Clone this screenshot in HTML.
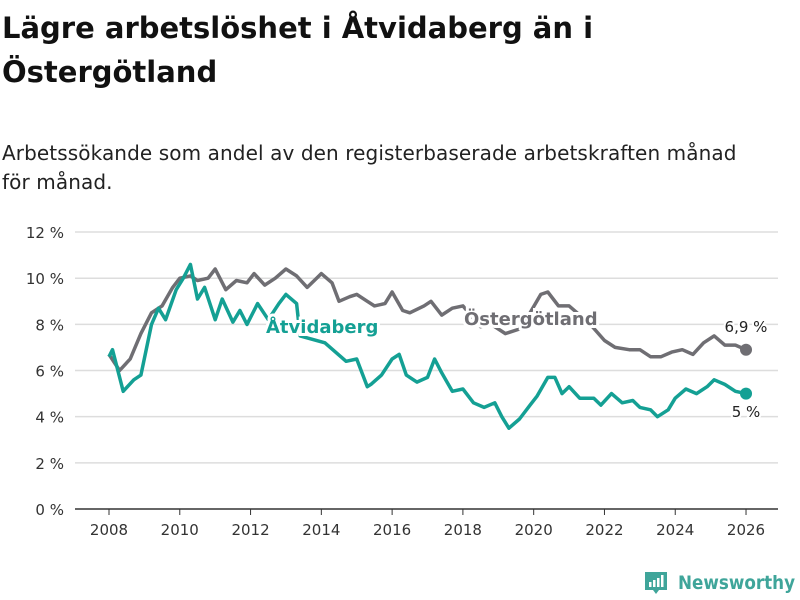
<!DOCTYPE html>
<html><head><meta charset="utf-8">
<style>
body{margin:0;width:800px;height:600px;background:#fff;font-family:"DejaVu Sans","Liberation Sans",sans-serif;color:#111;overflow:hidden;position:relative}
h1{position:absolute;left:2px;top:6px;margin:0;font-size:29px;line-height:44px;font-weight:bold;width:760px}
.sub{position:absolute;left:2px;top:139px;font-size:20px;line-height:29px;width:798px;color:#222;letter-spacing:0.1px}
svg{position:absolute;left:0;top:0}
</style></head><body>
<h1>Lägre arbetslöshet i Åtvidaberg än i<br>Östergötland</h1>
<div class="sub">Arbetssökande som andel av den registerbaserade arbetskraften månad<br>för månad.</div>
<svg id="c" width="800" height="600"></svg>
<script>
const yTicks=[0,2,4,6,8,10,12];
const xTicks=[2008,2010,2012,2014,2016,2018,2020,2022,2024,2026];
const ostYears=[2008.0,2008.3,2008.6,2008.9,2009.2,2009.5,2009.8,2010.0,2010.3,2010.5,2010.8,2011.0,2011.3,2011.6,2011.9,2012.1,2012.4,2012.7,2013.0,2013.3,2013.6,2013.8,2014.0,2014.3,2014.5,2014.8,2015.0,2015.3,2015.5,2015.8,2016.0,2016.3,2016.5,2016.9,2017.1,2017.4,2017.7,2018.0,2018.5,2018.8,2019.2,2019.6,2019.9,2020.2,2020.4,2020.7,2021.0,2021.3,2021.6,2022.0,2022.3,2022.7,2023.0,2023.3,2023.6,2023.9,2024.2,2024.5,2024.8,2025.1,2025.4,2025.7,2026.0];
const ostValues=[6.7,6.0,6.5,7.6,8.5,8.8,9.6,10.0,10.1,9.9,10.0,10.4,9.5,9.9,9.8,10.2,9.7,10.0,10.4,10.1,9.6,9.9,10.2,9.8,9.0,9.2,9.3,9.0,8.8,8.9,9.4,8.6,8.5,8.8,9.0,8.4,8.7,8.8,7.9,8.0,7.6,7.8,8.5,9.3,9.4,8.8,8.8,8.4,8.0,7.3,7.0,6.9,6.9,6.6,6.6,6.8,6.9,6.7,7.2,7.5,7.1,7.1,6.9];
const atvYears=[2008.0,2008.1,2008.4,2008.7,2008.9,2009.2,2009.4,2009.6,2009.9,2010.1,2010.3,2010.5,2010.7,2011.0,2011.2,2011.5,2011.7,2011.9,2012.2,2012.5,2012.8,2013.0,2013.3,2013.4,2014.1,2014.4,2014.7,2015.0,2015.3,2015.4,2015.7,2016.0,2016.2,2016.4,2016.7,2017.0,2017.2,2017.4,2017.7,2018.0,2018.3,2018.6,2018.9,2019.1,2019.3,2019.6,2019.9,2020.1,2020.4,2020.6,2020.8,2021.0,2021.3,2021.7,2021.9,2022.2,2022.5,2022.8,2023.0,2023.3,2023.5,2023.8,2024.0,2024.3,2024.6,2024.9,2025.1,2025.4,2025.7,2026.0];
const atvValues=[6.6,6.9,5.1,5.6,5.8,8.0,8.7,8.2,9.5,10.0,10.6,9.1,9.6,8.2,9.1,8.1,8.6,8.0,8.9,8.2,8.9,9.3,8.9,7.5,7.2,6.8,6.4,6.5,5.3,5.4,5.8,6.5,6.7,5.8,5.5,5.7,6.5,5.9,5.1,5.2,4.6,4.4,4.6,4.0,3.5,3.9,4.5,4.9,5.7,5.7,5.0,5.3,4.8,4.8,4.5,5.0,4.6,4.7,4.4,4.3,4.0,4.3,4.8,5.2,5.0,5.3,5.6,5.4,5.1,5.0];
const NS="http://www.w3.org/2000/svg";
const svg=document.getElementById('c');
const X=y=>109+(y-2008)*35.39;
const Y=v=>509-v*23.08;
function el(t,a,p){const e=document.createElementNS(NS,t);for(const k in a)e.setAttribute(k,a[k]);(p||svg).appendChild(e);return e;}
yTicks.forEach(v=>{
 const g=el('line',{x1:75,x2:778,y1:Y(v),y2:Y(v),stroke:v===0?'#333':'#ddd','stroke-width':1.5});
 
 
 const t=el('text',{x:64,y:Y(v)+6,'text-anchor':'end','font-size':15,fill:'#333'});
 t.textContent=v+' %';
 
 
});
xTicks.forEach(yr=>{
 const l=el('line',{x1:X(yr),x2:X(yr),y1:509,y2:515,stroke:'#333'});
 
 
 const t=el('text',{x:X(yr),y:535,'text-anchor':'middle','font-size':15,fill:'#333'});
 t.textContent=yr;
 
 
});
function line(xs,vs,col,name){
 const d=xs.map((x,i)=>(i?'L':'M')+X(x).toFixed(1)+','+Y(vs[i]).toFixed(1)).join('');
 const p=el('path',{d:d,fill:'none',stroke:col,'stroke-width':3.5,'stroke-linejoin':'round'});
 
 
 const c=el('circle',{cx:X(xs[xs.length-1]),cy:Y(vs[vs.length-1]),r:6,fill:col});
 
 
}
line(ostYears,ostValues,'#6f6e73','ostergotland');
line(atvYears,atvValues,'#14a094','atvidaberg');
function label(x,y,txt,col,size,bold,name,anchor){
 const t=el('text',{x:x,y:y,'font-size':size,fill:col,'font-weight':bold?'bold':'normal',stroke:'#fff','stroke-width':bold?6:4,'paint-order':'stroke','text-anchor':anchor||'start'});
 t.textContent=txt;
 
 
}
label(266,333,'Åtvidaberg','#14a094',18,true,'atvidaberg-label');
label(464,325,'Östergötland','#6f6e73',18,true,'ostergotland-label');
label(746,332,'6,9 %','#222',15,false,'ostergotland-value-label','middle');
label(746,417,'5 %','#222',15,false,'atvidaberg-value-label','middle');
const lg=el('g',{});


el('path',{d:'M645,572 h22 v18 h-8 l-3,4 l-3,-4 h-8 z',fill:'#3fa59a'},lg);
el('rect',{x:649,y:582,width:2.5,height:5,fill:'#fff'},lg);
el('rect',{x:653,y:580,width:2.5,height:7,fill:'#fff'},lg);
el('rect',{x:657,y:578,width:2.5,height:9,fill:'#fff'},lg);
el('rect',{x:661,y:575,width:2.5,height:12,fill:'#fff'},lg);
const lt=el('text',{x:678,y:589,'font-size':19,fill:'#3fa59a','font-weight':'bold',textLength:117,lengthAdjust:'spacingAndGlyphs'},lg);
lt.textContent='Newsworthy';
</script>
</body></html>
